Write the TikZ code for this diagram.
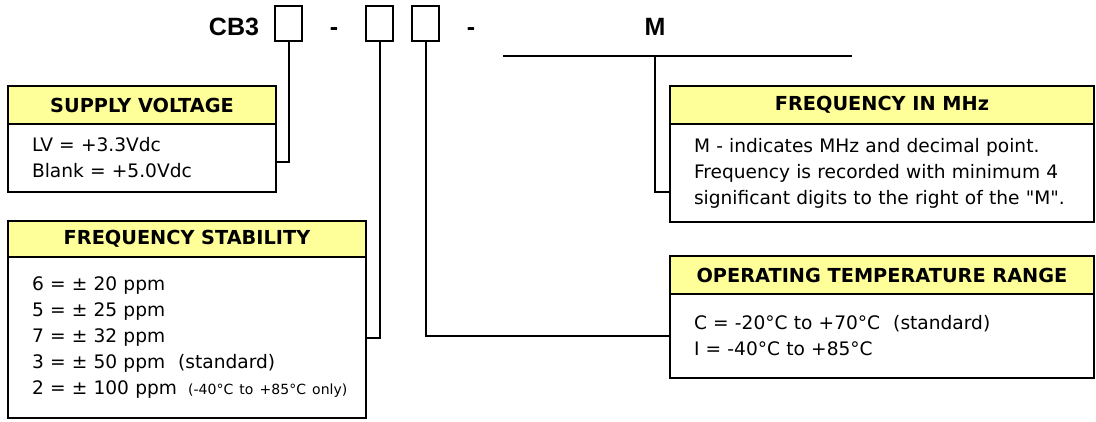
\documentclass[tikz,border=0pt]{standalone}
\usepackage{fontspec}
\setmainfont{DejaVu Sans}
\newfontfamily\partfont{Liberation Sans}
\usetikzlibrary{positioning}
\definecolor{hdryellow}{HTML}{FFFF99}
\newcommand\smallnote[1]{{\fontsize{14}{14}\selectfont #1}}

\begin{document}
\begin{tikzpicture}[
x=1pt,y=-1pt,
node distance=0pt,
conn/.style={line width=2pt},
partbox/.style={draw,line width=2pt,minimum width=27pt,minimum height=35pt,inner sep=0pt},
parttext/.style={font=\partfont\bfseries\fontsize{25}{25}\selectfont,inner sep=0pt,anchor=base},
hdr/.style={draw,line width=2.4pt,fill=hdryellow,inner sep=0pt,outer sep=0pt,
  anchor=north west,font=\bfseries\fontsize{19.3}{22}\selectfont},
bodybox/.style={draw,line width=2.4pt,inner xsep=24pt,inner ysep=0pt,outer sep=0pt,
  align=left,font=\fontsize{18.6}{26}\selectfont}
]
\useasboundingbox (0,0) rectangle (1096,421);

% part number
\node[parttext] (cb) at (234,35) {CB3};
\node[partbox] (p1) at (288.5,23.5) {};
\node[parttext] (d1) at (334,35) {-};
\node[partbox] (p2) at (379.5,23.5) {};
\node[partbox] (p3) at (425.5,23.5) {};
\node[parttext] (d2) at (471,35) {-};
\node[parttext] (m) at (655,35) {M};
\coordinate (mlL) at (503,56);
\coordinate (mlR) at (852,56);
\draw[conn] (mlL) -- (mlR);

% option boxes
\node[hdr,minimum width=268pt,minimum height=38pt] (svh) at (8,86) {SUPPLY VOLTAGE};
\node[bodybox,below=of svh,text width=220pt,minimum height=68pt] (svb)
  {LV = +3.3Vdc\\Blank = +5.0Vdc};

\node[hdr,minimum width=358pt,minimum height=36pt] (fsh) at (8,221) {FREQUENCY STABILITY};
\node[bodybox,below=of fsh,text width=310pt,minimum height=161pt] (fsb)
  {6 = ± 20 ppm\\5 = ± 25 ppm\\7 = ± 32 ppm\\3 = ± 50 ppm\hspace{0.7em}(standard)\\
   \mbox{2 = ± 100 ppm\hspace{0.6em}\smallnote{(-40°C to +85°C only)}}};

\node[hdr,minimum width=424pt,minimum height=38pt] (mhh) at (670,86) {FREQUENCY IN MHz};
\node[bodybox,below=of mhh,text width=376pt,minimum height=98pt] (mhb)
  {M - indicates MHz and decimal point.\\Frequency is recorded with minimum 4\\
   significant digits to the right of the \textquotedbl M\textquotedbl.};

\node[hdr,minimum width=424pt,minimum height=38pt] (oth) at (670,256) {OPERATING TEMPERATURE RANGE};
\node[bodybox,below=of oth,text width=376pt,minimum height=84pt] (otb)
  {C = -20°C to +70°C\hspace{0.7em}(standard)\\I = -40°C to +85°C};

% connectors
\draw[conn] (p1.south) |- ([yshift=-4pt]svb.east);
\draw[conn] (p2.south) |- (fsb.east);
\draw[conn] (p3.south) |- (otb.west);
\draw[conn] (m |- mlL) |- ([yshift=-19pt]mhb.west);

\end{tikzpicture}
\end{document}
